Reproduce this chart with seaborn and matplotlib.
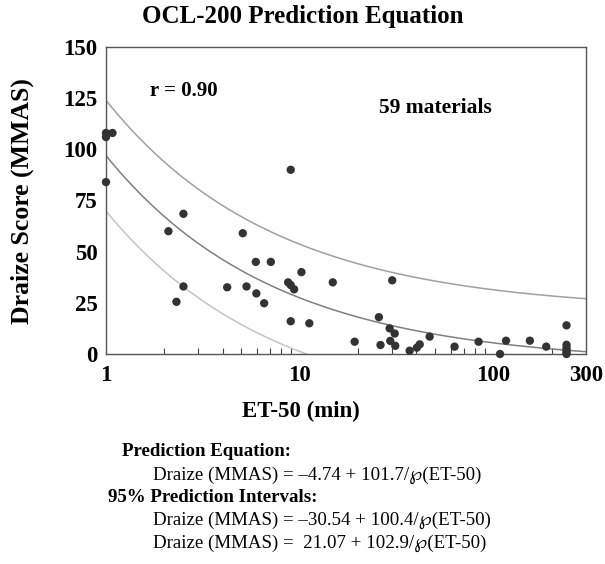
import numpy as np
import pandas as pd
import matplotlib
matplotlib.use("Agg")
import matplotlib.pyplot as plt
import seaborn as sns
from matplotlib.ticker import FixedLocator, NullFormatter, LogLocator

# ---- data ----
et50 = [1.0, 1.0, 1.08, 1.0, 2.10, 2.51, 2.31, 2.51, 4.22, 5.08, 5.31, 5.93, 5.97,
        7.09, 6.55, 8.98, 10.2, 8.71, 8.98, 9.35, 14.8, 8.98, 11.2, 30.0, 25.6,
        19.2, 26.1, 29.1, 30.9, 29.3, 31.1, 36.9, 40.2, 41.6, 46.8, 62.9, 83.7,
        108, 116, 154, 187, 238, 238, 238, 238, 238, 238]
draize = [106, 108, 108, 84, 60, 68.5, 25.5, 33, 32.6, 59, 33, 45, 29.6,
          45, 24.8, 90, 40, 35, 33.7, 31.6, 35, 16, 15, 36, 18,
          6, 4.4, 12.5, 10, 6.4, 4, 1.6, 3.1, 4.7, 8.5, 3.6, 6,
          0, 6.5, 6.5, 3.6, 14, 4.5, 3, 1.8, 0.8, 0]

# prediction equation and 95% prediction intervals: Draize = a + b / sqrt(ET-50)
curve_names = ["lower", "fit", "upper"]
intercepts = [-30.54, -4.74, 21.07]
slopes = [100.4, 101.7, 102.9]
curve_colors = ["#c4c4c4", "#808080", "#a0a0a0"]

xticks = [1, 10, 100, 300]
yticks = [0, 25, 50, 75, 100, 125, 150]

serif = ["Liberation Serif", "DejaVu Serif", "DejaVu Sans"]

sns.set_theme(style="white")
plt.rcParams["font.family"] = serif
plt.rcParams["text.color"] = "black"
plt.rcParams["xtick.color"] = "black"
plt.rcParams["ytick.color"] = "black"

fig = plt.figure(figsize=(6.05, 5.64), dpi=100)
ax = fig.add_axes([106 / 605, 1 - 354 / 564, (586 - 106) / 605, (354 - 47) / 564])

xs = np.logspace(0, np.log10(300), 300)
rows = []
for n, a, b in zip(curve_names, intercepts, slopes):
    for x in xs:
        rows.append({"x": x, "y": a + b / np.sqrt(x), "curve": n})
curves = pd.DataFrame(rows)
for n, c in zip(curve_names, curve_colors):
    sns.lineplot(data=curves[curves.curve == n], x="x", y="y", color=c, lw=1.1, ax=ax)

pts = pd.DataFrame({"et50": et50, "draize": draize})
sns.scatterplot(data=pts, x="et50", y="draize", color="#333333", s=36, edgecolor="none",
                ax=ax, clip_on=False, zorder=5)

ax.set_xscale("log")
ax.set_xlim(1, 300)
ax.set_ylim(0, 150)
ax.xaxis.set_major_locator(FixedLocator(xticks))
ax.set_xticklabels([str(t) for t in xticks])
ax.xaxis.set_minor_locator(LogLocator(base=10, subs=np.arange(2, 10)))
ax.xaxis.set_minor_formatter(NullFormatter())
ax.set_yticks(yticks)
ax.set_yticklabels([str(t) for t in yticks])
ax.tick_params(axis="x", which="major", direction="in", length=0, pad=8, labelcolor="black")
ax.tick_params(axis="x", which="minor", direction="in", length=4, width=0.8, color="#444444", bottom=True)
ax.tick_params(axis="y", length=0, pad=6, labelcolor="black")
for lab in ax.get_xticklabels() + ax.get_yticklabels():
    lab.set_fontweight("bold")
    lab.set_fontsize(16.5)
    lab.set_family(serif)
for s in ax.spines.values():
    s.set_color("#555555")
    s.set_linewidth(1.0)
ax.set_xlabel("")
ax.set_ylabel("")

ax.text(2.52, 128.5, "r = 0.90", fontsize=15, fontweight="bold", ha="center", va="center")
ax.text(50, 120, "59 materials", fontsize=15.5, fontweight="bold", ha="center", va="center")

fig.text(0.5, 1 - 17 / 564, "OCL-200 Prediction Equation", fontsize=18, fontweight="bold",
         ha="center", va="center")
fig.text(22 / 605, 1 - 201 / 564, "Draize Score (MMAS)", fontsize=18.5, fontweight="bold",
         ha="center", va="center", rotation=90)
fig.text(301 / 605, 1 - 411 / 564, "ET-50 (min)", fontsize=16.5, fontweight="bold",
         ha="center", va="center")

fs = 13.6
fig.text(122 / 605, 1 - 452 / 564, "Prediction Equation:", fontsize=fs, fontweight="bold", va="center")
fig.text(153 / 605, 1 - 475 / 564, "Draize (MMAS) = \u20134.74 + 101.7/\u2118(ET-50)", fontsize=fs, va="center")
fig.text(108 / 605, 1 - 497 / 564, "95% Prediction Intervals:", fontsize=fs, fontweight="bold", va="center")
fig.text(153 / 605, 1 - 520 / 564, "Draize (MMAS) = \u201330.54 + 100.4/\u2118(ET-50)", fontsize=fs, va="center")
fig.text(153 / 605, 1 - 543 / 564, "Draize (MMAS) =  21.07 + 102.9/\u2118(ET-50)", fontsize=fs, va="center")

fig.savefig("out.png", dpi=100, facecolor="white")
